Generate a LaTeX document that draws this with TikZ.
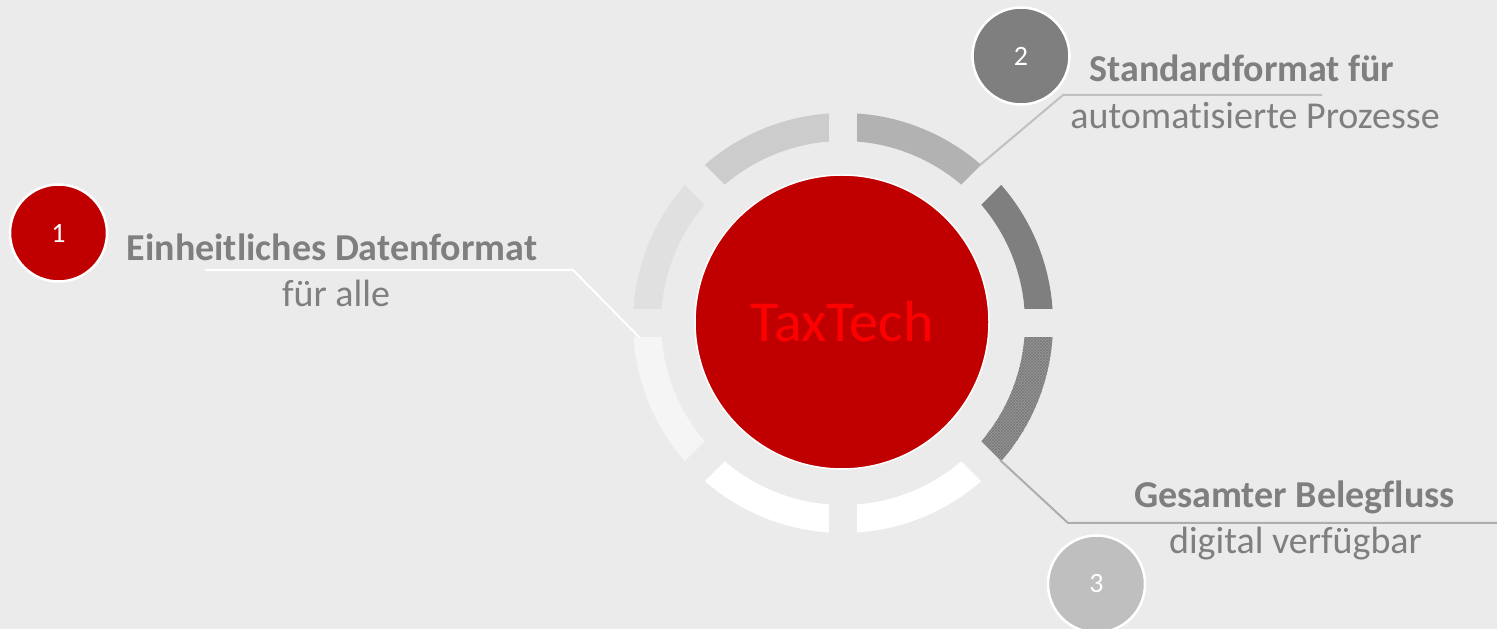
\documentclass[tikz,border=0pt]{standalone}
\usepackage{fontspec}
\setmainfont{Carlito}[Ligatures={NoCommon}]
\usetikzlibrary{patterns,calc}

\definecolor{bgcol}{HTML}{EBEBEB}
\definecolor{corered}{HTML}{C00000}
\definecolor{coretext}{HTML}{FF0000}
\definecolor{labelgrey}{HTML}{7F7F7F}
\definecolor{segA}{HTML}{B2B2B2}
\definecolor{segB}{HTML}{7F7F7F}
\definecolor{segC}{HTML}{969696}
\definecolor{segCgrid}{HTML}{7A7A7A}
\definecolor{segD}{HTML}{FFFFFF}
\definecolor{segE}{HTML}{FFFFFF}
\definecolor{segF}{HTML}{F5F5F5}
\definecolor{segG}{HTML}{E0E0E0}
\definecolor{segH}{HTML}{CCCCCC}
\definecolor{numtwo}{HTML}{7F7F7F}
\definecolor{numthree}{HTML}{BFBFBF}
\definecolor{linktwo}{HTML}{C0C0C0}
\definecolor{linkthree}{HTML}{ADADAD}

\tikzset{
  numcirc/.style={circle, draw=white, line width=2.5, minimum size=97, inner sep=0,
    text=white, font=\fontsize{28}{30}\selectfont},
  headline/.style={anchor=base, text=labelgrey, font=\fontsize{38}{44}\selectfont\bfseries},
  subline/.style={anchor=base, text=labelgrey, font=\fontsize{38}{44}\selectfont},
  link/.style={line width=2},
}

\begin{document}
\begin{tikzpicture}[x=1pt,y=1pt]
\fill[bgcol] (0,0) rectangle (1497,629);
\useasboundingbox (0,0) rectangle (1497,629);

\coordinate (c) at (843,306);

% ring of eight segments
\foreach \a/\col in {45/segA, 0/segB, -90/segD, -135/segE, 180/segF, 135/segG, 90/segH}{
  \fill[\col] ($(c)+(\a:210)$) arc[start angle=\a, delta angle=45, radius=210]
    -- ($(c)+(\a+45:182)$) arc[start angle=\a+45, delta angle=-45, radius=182] -- cycle;
}
% hatched segment
\fill[segC] ($(c)+(-45:210)$) arc[start angle=-45, delta angle=45, radius=210]
  -- ($(c)+(0:182)$) arc[start angle=0, delta angle=-45, radius=182] -- cycle;
\fill[pattern=crosshatch, pattern color=segCgrid] ($(c)+(-45:210)$) arc[start angle=-45, delta angle=45, radius=210]
  -- ($(c)+(0:182)$) arc[start angle=0, delta angle=-45, radius=182] -- cycle;

% straight gaps between the segments
\foreach \a in {0,45,90,135}{
  \draw[bgcol, line width=28] ($(c)+(\a:232)$) -- ($(c)+(\a+180:232)$);
}

% core
\node[circle, fill=corered, draw=white, line width=1.5, minimum size=294, inner sep=0,
  text=coretext, font=\fontsize{58}{64}\selectfont] (core) at (842,307) {TaxTech};

% connector points
\coordinate (s1) at (205,359);
\coordinate (k1) at (573,359);
\coordinate (e1) at (640,291);
\coordinate (s2) at (1322,534);
\coordinate (k2) at (1063,534);
\coordinate (e2) at (980,464);
\coordinate (s3) at (1497,106);
\coordinate (k3) at (1068,106);
\coordinate (e3) at (1000,169);

\draw[link, white] (s1) -- (k1) -- (e1);
\draw[link, linktwo] (s2) -- (k2) -- (e2);
\draw[link, linkthree] (s3) -- (k3) -- (e3);

% numbered markers
\node[numcirc, fill=corered] (n1) at (58.5,396) {1};
\node[numcirc, fill=numtwo] (n2) at (1021,573) {2};
\node[numcirc, fill=numthree] (n3) at (1096.5,45) {3};

% labels
\node[headline] (t1a) at (332,368) {Einheitliches Datenformat};
\node[subline] (t1b) at (336,322) {für alle};
\node[headline] (t2a) at (1242,547) {Standardformat für};
\node[subline] (t2b) at (1255,500) {automatisierte Prozesse};
\node[headline] (t3a) at (1294.5,121) {Gesamter Belegfluss};
\node[subline] (t3b) at (1295.5,75) {digital verfügbar};
\end{tikzpicture}
\end{document}
